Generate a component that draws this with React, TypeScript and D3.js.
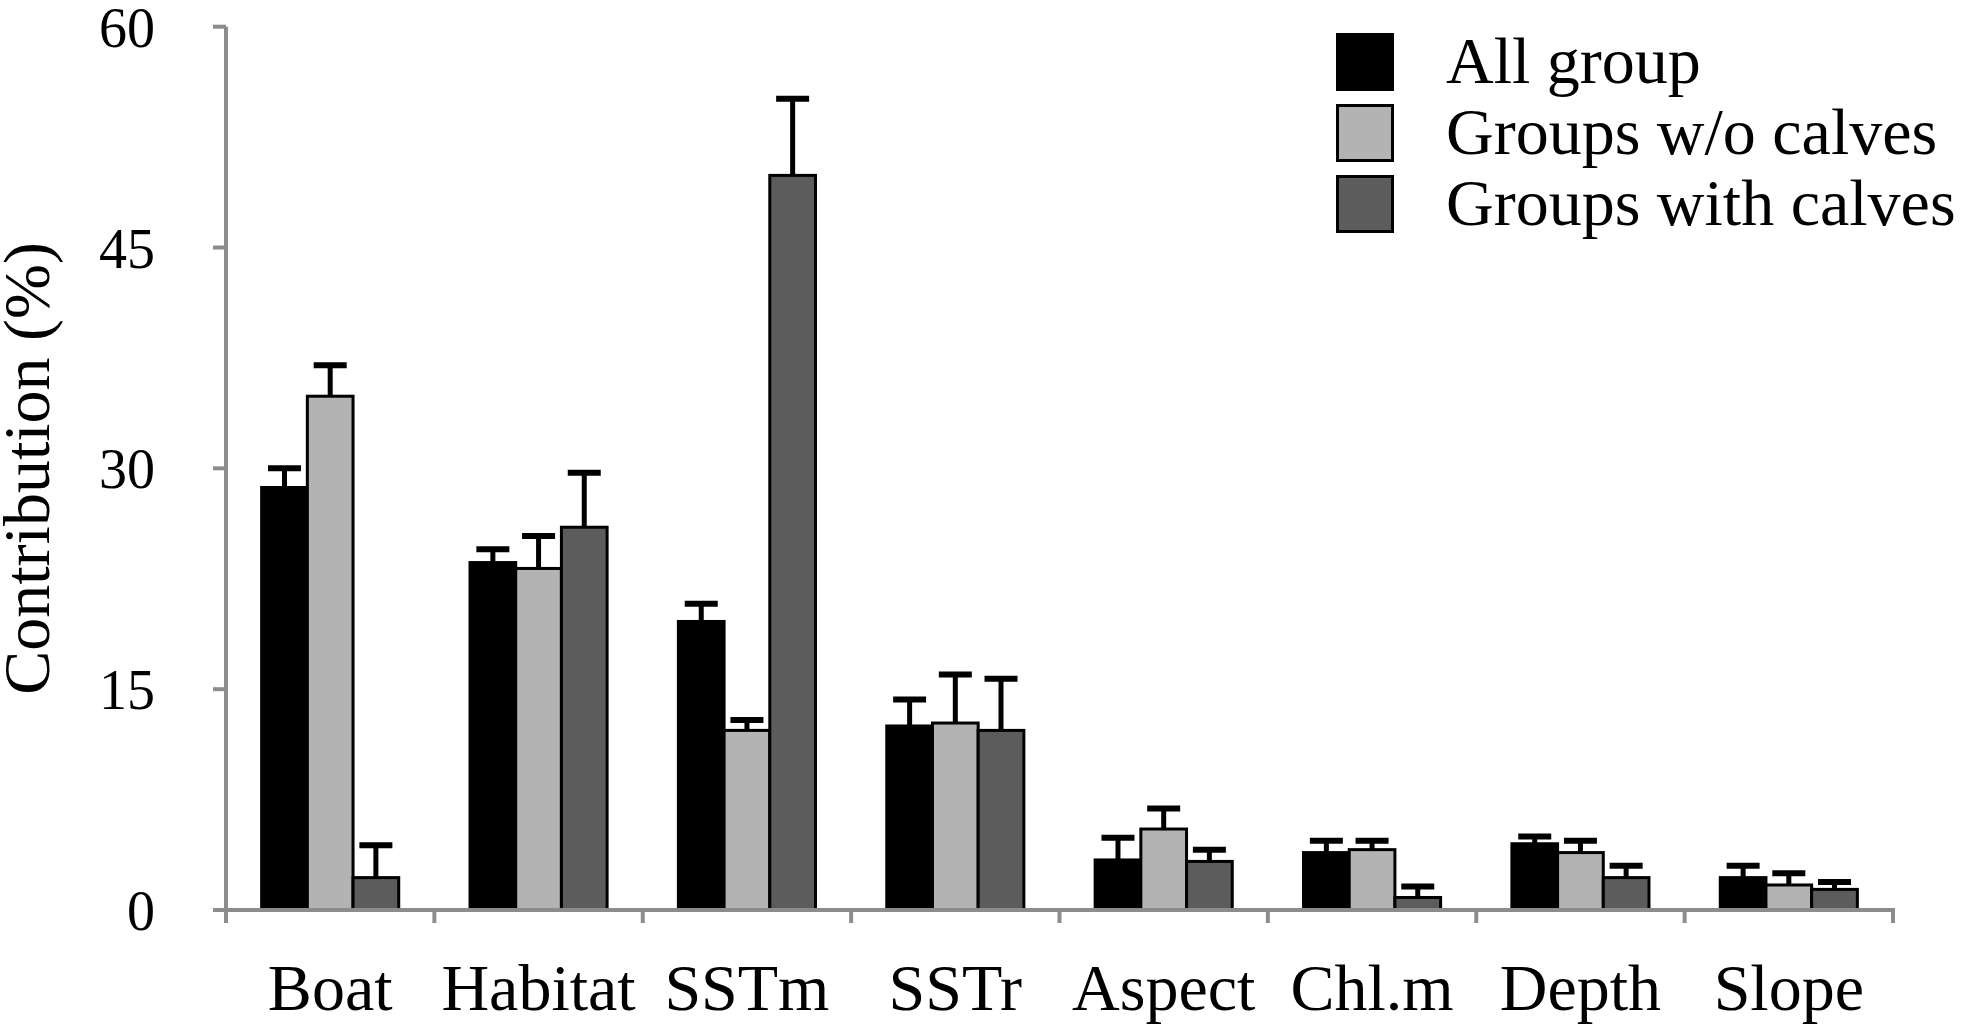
import React from "react";
import * as d3 from "d3";

const categories = ["Boat", "Habitat", "SSTm", "SSTr", "Aspect", "Chl.m", "Depth", "Slope"];
const seriesNames = ["All group", "Groups w/o calves", "Groups with calves"];
const seriesColors = ["#000000", "#b3b3b3", "#5c5c5c"];

const allGroup = [28.7, 23.6, 19.6, 12.5, 3.4, 3.9, 4.5, 2.2];
const allGroupErr = [1.3, 0.9, 1.2, 1.8, 1.5, 0.8, 0.5, 0.8];
const withoutCalves = [34.9, 23.2, 12.2, 12.7, 5.5, 4.1, 3.9, 1.7];
const withoutCalvesErr = [2.1, 2.2, 0.7, 3.3, 1.4, 0.6, 0.8, 0.8];
const withCalves = [2.2, 26.0, 49.9, 12.2, 3.3, 0.85, 2.2, 1.4];
const withCalvesErr = [2.2, 3.7, 5.2, 3.5, 0.8, 0.75, 0.8, 0.5];

const yTicks = [0, 15, 30, 45, 60];

const W = 1970;
const H = 1034;
const FONT = "'Liberation Serif', 'Times New Roman', serif";
const AXIS = "#8c8c8c";

export default function App() {
  const values = [allGroup, withoutCalves, withCalves];
  const errs = [allGroupErr, withoutCalvesErr, withCalvesErr];

  const x0 = d3.scaleBand<string>().domain(categories).range([226, 1893]).padding(0);
  const x1 = d3
    .scaleBand<string>()
    .domain(seriesNames)
    .range([0, x0.bandwidth()])
    .paddingInner(0)
    .paddingOuter(0.78);
  const y = d3.scaleLinear().domain([0, 60]).range([910, 26.7]);

  const boundaries = [...categories.map((c) => x0(c) as number), 1893];

  return (
    <svg
      width={W}
      height={H}
      viewBox={`0 0 ${W} ${H}`}
      style={{ position: "absolute", left: 0, top: 0, display: "block", background: "#fff" }}
    >
      <rect x={0} y={0} width={W} height={H} fill="#fff" />
      {/* bars */}
      {categories.map((c, ci) => (
        <g key={c} transform={`translate(${x0(c)},0)`}>
          {seriesNames.map((s, si) => {
            const v = values[si][ci];
            const bx = x1(s) as number;
            const bw = x1.bandwidth();
            return (
              <rect
                key={s}
                x={bx}
                y={y(v)}
                width={bw}
                height={y(0) - y(v)}
                fill={seriesColors[si]}
                stroke="#000"
                strokeWidth={3}
              />
            );
          })}
        </g>
      ))}
      {/* error bars */}
      {categories.map((c, ci) => (
        <g key={c + "err"} transform={`translate(${x0(c)},0)`}>
          {seriesNames.map((s, si) => {
            const v = values[si][ci];
            const e = errs[si][ci];
            const cx = (x1(s) as number) + x1.bandwidth() / 2;
            return (
              <g key={s}>
                <line x1={cx} x2={cx} y1={y(v)} y2={y(v + e)} stroke="#000" strokeWidth={5} />
                <line x1={cx - 16.5} x2={cx + 16.5} y1={y(v + e)} y2={y(v + e)} stroke="#000" strokeWidth={6} />
              </g>
            );
          })}
        </g>
      ))}
      {/* y axis */}
      <line x1={226} x2={226} y1={y(60)} y2={y(0) + 2} stroke={AXIS} strokeWidth={4} />
      {yTicks.map((t) => (
        <g key={t}>
          <line x1={213} x2={226} y1={y(t)} y2={y(t)} stroke={AXIS} strokeWidth={4} />
          <text x={155} y={y(t) + 20} textAnchor="end" fontFamily={FONT} fontSize={56} fill="#000">
            {t}
          </text>
        </g>
      ))}
      {/* x axis */}
      <line x1={224} x2={1895} y1={y(0)} y2={y(0)} stroke={AXIS} strokeWidth={4} />
      {boundaries.map((bx, i) => (
        <line key={i} x1={bx} x2={bx} y1={y(0)} y2={y(0) + 13} stroke={AXIS} strokeWidth={4} />
      ))}
      {categories.map((c) => (
        <text
          key={c}
          x={(x0(c) as number) + x0.bandwidth() / 2}
          y={1010}
          textAnchor="middle"
          fontFamily={FONT}
          fontSize={66}
          fill="#000"
        >
          {c}
        </text>
      ))}
      {/* y label */}
      <text
        transform={`translate(49, ${y(30)}) rotate(-90)`}
        textAnchor="middle"
        fontFamily={FONT}
        fontSize={66}
        fill="#000"
      >
        Contribution (%)
      </text>
      {/* legend */}
      {seriesNames.map((s, i) => (
        <g key={s} transform={`translate(1336, ${33 + i * 71})`}>
          <rect x={1.5} y={1.5} width={55} height={55} fill={seriesColors[i]} stroke="#000" strokeWidth={3} />
          <text x={110} y={50} fontFamily={FONT} fontSize={66} fill="#000">
            {s}
          </text>
        </g>
      ))}
    </svg>
  );
}
